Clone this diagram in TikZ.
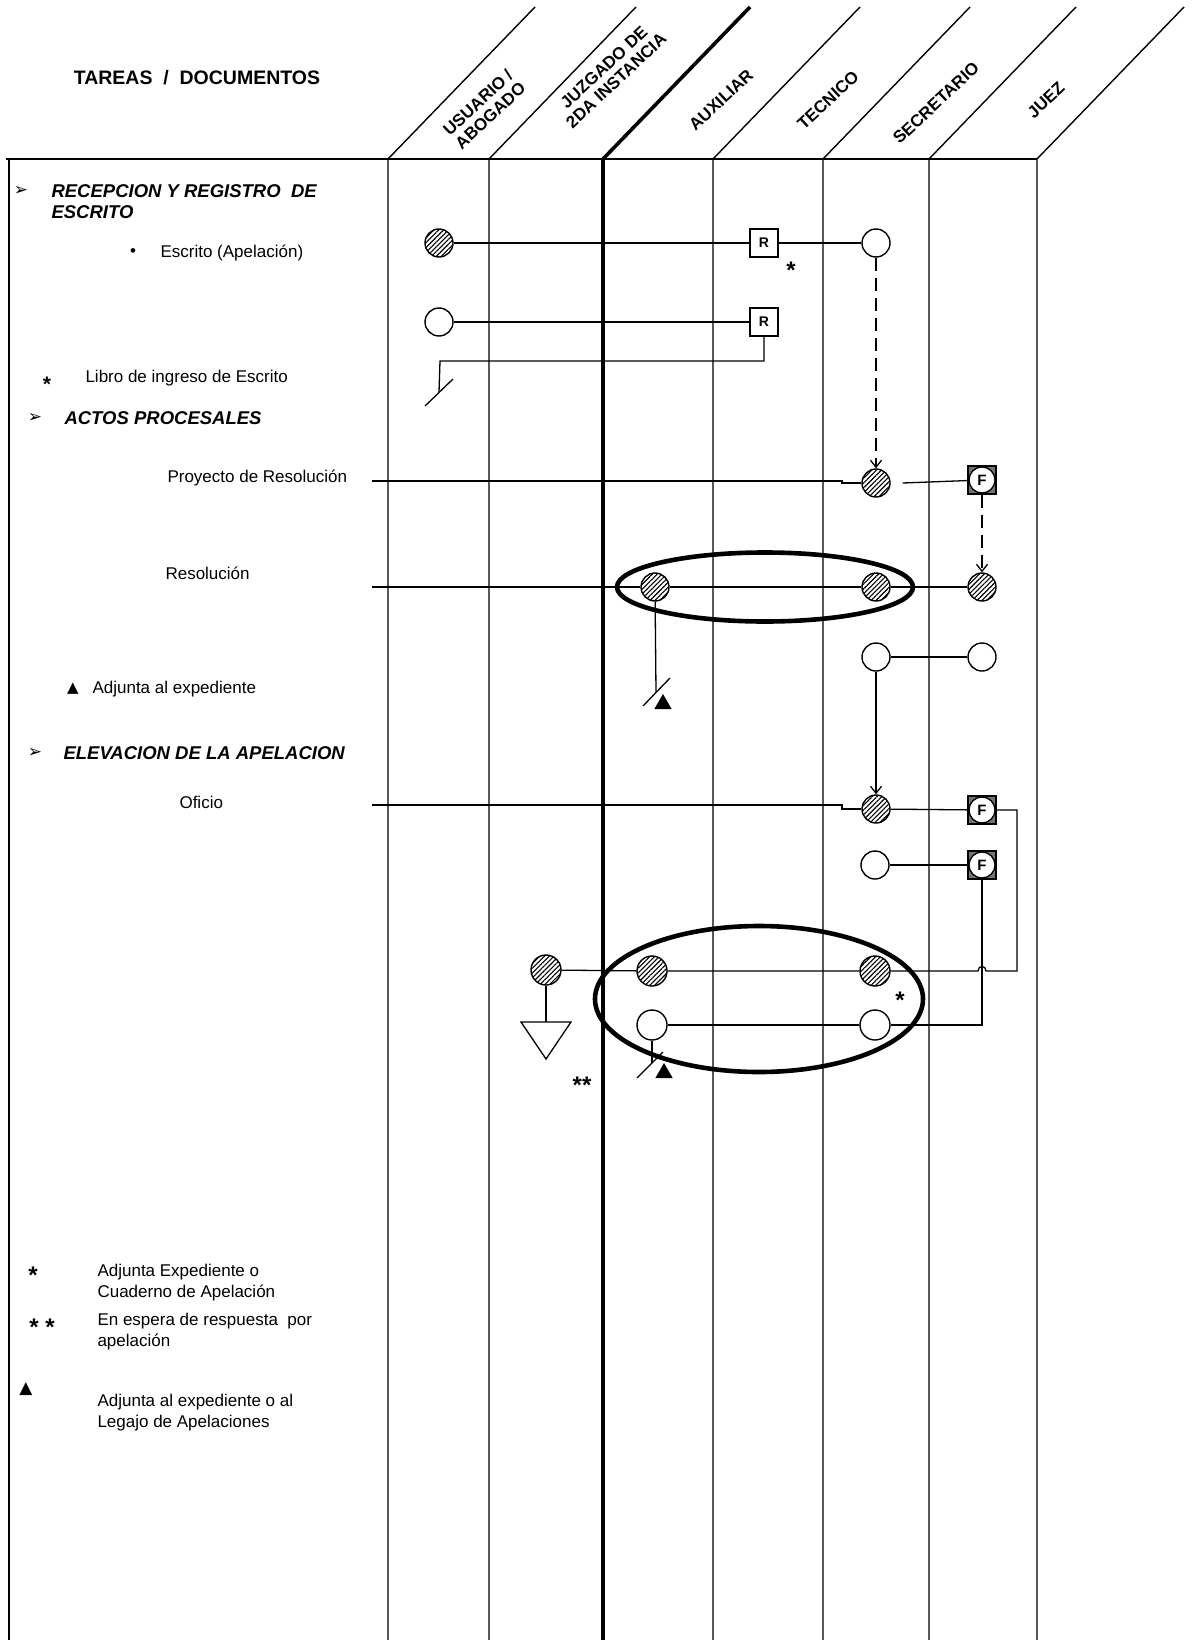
\documentclass[tikz,border=0pt]{standalone}
\usepackage{fontspec}
\setmainfont{Liberation Sans}
\newfontfamily\symfont{DejaVu Sans}
\usepackage{tikz}
\usetikzlibrary{arrows.meta,positioning,shapes.geometric,patterns.meta}

\begin{document}
\begin{tikzpicture}[
  x=1pt, y=-1pt,
  >={Straight Barb[length=7pt,width=11pt]},
  every node/.style={font=\fontsize{17}{21}\selectfont},
  lane/.style={line width=1.4pt},
  mainlane/.style={line width=3.6pt},
  wire/.style={line width=1.3pt},
  flowdash/.style={wire, dash pattern=on 13pt off 7pt, ->},
  hatched/.style={circle, draw, line width=1.4pt, minimum size=28pt, inner sep=0pt,
    pattern={Lines[angle=45,distance=3.4pt,line width=1.1pt]}},
  blank/.style={circle, draw, line width=1.4pt, minimum size=28pt, inner sep=0pt, fill=white},
  regbox/.style={rectangle, draw, line width=1.3pt, minimum size=28pt, inner sep=0pt,
    fill=white, font=\fontsize{14}{14}\selectfont\bfseries},
  signbox/.style={rectangle, draw, line width=1.3pt, minimum size=28pt, inner sep=0pt,
    fill=black!55, font=\fontsize{15}{15}\selectfont\bfseries,
    path picture={\draw[line width=1.3pt, fill=white] (path picture bounding box.center) circle[radius=13pt];}},
  group/.style={ellipse, draw, line width=4.6pt, inner sep=0pt},
  solid tri/.style={regular polygon, regular polygon sides=3, fill, inner sep=0pt, minimum size=20pt},
  lanehead/.style={font=\fontsize{17}{18}\selectfont\bfseries, rotate=43, align=center},
  task/.style={anchor=west, font=\fontsize{18.5}{21}\selectfont\bfseries\itshape, align=left},
  doc/.style={anchor=west, align=left},
  pointer/.style={font=\symfont\fontsize{17}{17}\selectfont},
  starmark/.style={font=\fontsize{24}{24}\selectfont\bfseries, yshift=-5pt},
]
\useasboundingbox (0,0) rectangle (1192,1640);

% ========= Lanes and header =========
\draw[lane] (6,159) -- (1037,159);
\draw[lane] (9,159) -- (9,1640);
\foreach \x in {388,489,713,823,929,1037}
  \draw[lane] (\x,1640) -- (\x,159) -- ++(147,-152);
\draw[mainlane] (603,1640) -- (603,159) -- ++(147,-152);

\node[font=\fontsize{19.5}{20}\selectfont\bfseries] (title) at (197,78) {TAREAS \ / \ DOCUMENTOS};
\node[lanehead] (hUsu) at (484,109) {USUARIO /\\ABOGADO};
\node[lanehead] (hJuz) at (610,74) {JUZGADO DE\\2DA INSTANCIA};
\node[lanehead] (hAux) at (721,100) {AUXILIAR};
\node[lanehead] (hTec) at (828,100) {TECNICO};
\node[lanehead] (hSec) at (936,103) {SECRETARIO};
\node[lanehead] (hJue) at (1046,100) {JUEZ};

% ========= Left column: tasks and documents =========
\node[pointer] (p1) at (21,191) {➢};
\node[task] (tRec) at (48,201.5) {RECEPCION Y REGISTRO \ DE\\ESCRITO};
\node (bul) at (133,253) {•};
\node[doc] (dEsc) at (157,253) {Escrito (Apelación)};
\node[starmark, font=\fontsize{21}{21}\selectfont\bfseries] (st0) at (47,379) {*};
\node[doc] (dLib) at (82,378) {Libro de ingreso de Escrito};
\node[pointer] (p2) at (35,418) {➢};
\node[task] (tAct) at (61,418) {ACTOS PROCESALES};
\node[doc] (dPro) at (164,478) {Proyecto de Resolución};
\node[doc] (dRes) at (162,573) {Resolución};
\node[font=\symfont\fontsize{15}{15}\selectfont] (tr0) at (73,689) {▲};
\node[doc] (dAdj) at (89,689) {Adjunta al expediente};
\node[pointer] (p3) at (35,753) {➢};
\node[task] (tEle) at (60,753) {ELEVACION DE LA APELACION};
\node[doc] (dOfi) at (176,802) {Oficio};

% ========= Legend =========
\node[starmark] (lg1) at (33,1270) {*};
\node[doc] (lt1) at (94,1282.5) {Adjunta Expediente o\\Cuaderno de Apelación};
\node[starmark] (lg2) at (42,1322) {* *};
\node[doc] (lt2) at (94,1332) {En espera de respuesta \ por\\apelación};
\node[font=\symfont\fontsize{17}{17}\selectfont] (lg3) at (26,1389) {▲};
\node[doc] (lt3) at (94,1413) {Adjunta al expediente o al\\Legajo de Apelaciones};

% ========= Recepcion y registro =========
\node[hatched] (h1) at (439,243) {};
\node[regbox] (r1) at (764,243) {R};
\node[blank] (o1) at (876,243) {};
\node[starmark] (st1) at (791,265) {*};
\node[blank] (o2) at (439,322) {};
\node[regbox] (r2) at (764,322) {R};
\coordinate (k2) at (440,361);
\coordinate (a1) at (439,392);

\draw[wire] (h1) -- (r1);
\draw[wire] (r1) -- (o1);
\draw[wire] (o2) -- (r2);
\draw[wire] (r2.south) |- (k2) -- (a1);
\draw[wire] (a1) ++(-14,14) -- ++(28,-27);

% ========= Actos procesales =========
\node[hatched] (h3) at (876,483) {};
\node[signbox] (f1) at (982,480) {F};
\coordinate (sPro) at (372,481);
\coordinate (jPro) at (842,481);
\draw[flowdash] (o1) -- (h3);
\draw[wire] (sPro) -- (jPro) -- ++(0,2) -- (h3);
\draw[wire] ([xshift=12pt]h3.east) -- (f1);

\node[hatched] (h5) at (655,587) {};
\node[hatched] (h6) at (876,587) {};
\node[hatched] (h4) at (982,587) {};
\node[group, minimum width=296pt, minimum height=69pt] (g1) at (765,587) {};
\coordinate (sRes) at (372,587);
\coordinate (a2) at (656,692);
\node[solid tri] (t1) at (663,704) {};
\draw[flowdash] (f1) -- (h4);
\draw[wire] (sRes) -- (h5) -- (h6) -- (h4);
\draw[wire] (h5) -- (a2);
\draw[wire] (a2) ++(-13,14) -- ++(27,-28);

\node[blank] (o3) at (876,657) {};
\node[blank] (o4) at (982,657) {};
\draw[wire] (o3) -- (o4);

% ========= Elevacion de la apelacion =========
\node[hatched] (h7) at (876,809) {};
\node[signbox] (f2) at (982,810) {F};
\coordinate (sOfi) at (372,805);
\coordinate (jOfi) at (842,805);
\draw[wire, ->] (o3) -- (h7);
\draw[wire] (sOfi) -- (jOfi) -- ++(0,4) -- (h7);
\draw[wire] (h7) -- (f2);

\node[blank] (o5) at (875,865) {};
\node[signbox] (f3) at (982,865) {F};
\draw[wire] (o5) -- (f3);

\node[hatched, minimum size=30pt] (h8) at (546,970) {};
\node[hatched, minimum size=30pt] (h9) at (652,971) {};
\node[hatched, minimum size=30pt] (h10) at (875,971) {};
\node[blank, minimum size=30pt] (o6) at (652,1025) {};
\node[blank, minimum size=30pt] (o7) at (875,1025) {};
\node[group, minimum width=328pt, minimum height=146pt] (g2) at (759,999) {};
\node[starmark] (st2) at (900,995) {*};

\coordinate (kF2) at (1017,810);
\coordinate (kTop) at (1017,971);
\coordinate (kF3) at (982,1025);
\draw[wire] (f2) -- (kF2) -- (kTop) -- (986,971)
  .. controls (986,965) and (978,965) .. (978,971) -- (h10);
\draw[wire] (h10) -- (h9) -- (h8);
\draw[wire] (f3) -- (kF3) -- (o7);
\draw[wire] (o7) -- (o6);

% waiting mark
\coordinate (wt) at (546,1022);
\draw[wire] (h8) -- (wt);
\draw[wire] (wt) ++(-25,0) -- ++(50,0) -- ++(-25,37) -- cycle;
\node[starmark] (st3) at (582,1080) {**};

% archive mark
\coordinate (a3) at (652,1063);
\node[solid tri] (t2) at (664,1073) {};
\draw[wire] (o6) -- (a3);
\draw[wire] (a3) ++(-15,15) -- ++(26,-26);

\end{tikzpicture}
\end{document}
